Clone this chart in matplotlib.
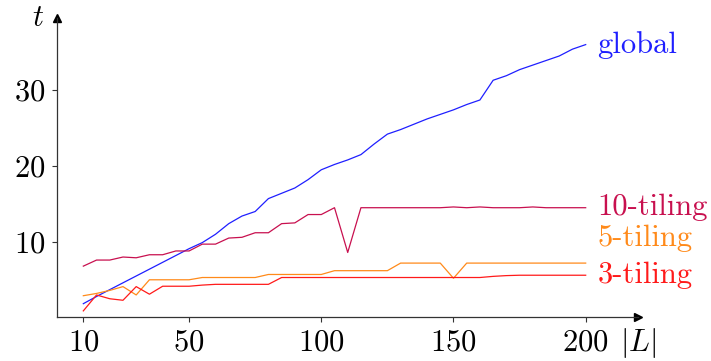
import matplotlib
matplotlib.use("Agg")
import matplotlib.pyplot as plt

matplotlib.rcParams['font.family'] = 'cmr10'
matplotlib.rcParams['mathtext.fontset'] = 'cm'
matplotlib.rcParams['axes.formatter.use_mathtext'] = True

L = list(range(10, 201, 5))

t_global = [1.85, 2.8, 3.7, 4.6, 5.5, 6.4, 7.3, 8.2, 9.1, 9.9, 11.0, 12.4, 13.4, 14.0,
            15.7, 16.4, 17.1, 18.2, 19.5, 20.2, 20.8, 21.5, 22.9, 24.2, 24.8, 25.5,
            26.2, 26.8, 27.4, 28.1, 28.7, 31.3, 31.9, 32.7, 33.3, 33.9, 34.5, 35.4, 36.0]
t_10 = [6.8, 7.6, 7.6, 8.0, 7.9, 8.3, 8.3, 8.8, 8.8, 9.7, 9.7, 10.5, 10.6, 11.2,
        11.2, 12.4, 12.5, 13.6, 13.6, 14.5, 8.6, 14.5, 14.5, 14.5, 14.5, 14.5,
        14.5, 14.5, 14.6, 14.5, 14.6, 14.5, 14.5, 14.5, 14.6, 14.5, 14.5, 14.5, 14.5]
t_5 = [2.9, 3.2, 3.6, 4.1, 3.0, 5.0, 5.0, 5.0, 5.0, 5.3, 5.3, 5.3, 5.3, 5.3,
       5.7, 5.7, 5.7, 5.7, 5.7, 6.2, 6.2, 6.2, 6.2, 6.2, 7.2, 7.2, 7.2, 7.2,
       5.2, 7.2, 7.2, 7.2, 7.2, 7.2, 7.2, 7.2, 7.2, 7.2, 7.2]
t_3 = [0.9, 3.0, 2.5, 2.3, 4.1, 3.1, 4.15, 4.15, 4.15, 4.3, 4.4, 4.4, 4.4, 4.4,
       4.4, 5.3, 5.3, 5.3, 5.3, 5.3, 5.3, 5.3, 5.3, 5.3, 5.3, 5.3, 5.3, 5.3,
       5.3, 5.3, 5.3, 5.45, 5.55, 5.6, 5.6, 5.6, 5.6, 5.6, 5.6]

series = [
    ('global', t_global, '#1f1fff', 36.0),
    ('10-tiling', t_10, '#c8104f', 14.5),
    ('5-tiling', t_5, '#ff8a1a', 10.5),
    ('3-tiling', t_3, '#ff1a1a', 5.6),
]

fig = plt.figure(figsize=(7.11, 3.61), dpi=100)
ax = fig.add_axes([0.080, 0.122, 0.817, 0.828])

for name, vals, col, ylab in series:
    ax.plot(L, vals, color=col, lw=0.9)
    ax.annotate(name, xy=(L[-1], ylab), xytext=(8.6, 0), textcoords='offset points',
                ha='left', va='center', color=col, fontsize=22, annotation_clip=False)

ax.set_xlim(0, 219.7)
ax.set_ylim(0.1, 39.5)
ax.set_xticks([10, 50, 100, 150, 200])
ax.set_yticks([10, 20, 30])
ax.tick_params(labelsize=22, length=3.6, width=0.8, color='#333333', pad=5)

for s in ['top', 'right']:
    ax.spines[s].set_visible(False)
for s in ['left', 'bottom']:
    ax.spines[s].set_color('#333333')
    ax.spines[s].set_linewidth(0.9)

ax.plot(1, 0, '>', color='black', ms=6, transform=ax.transAxes, clip_on=False)
ax.plot(0, 1, '^', color='black', ms=6, transform=ax.transAxes, clip_on=False)

ax.text(-0.022, 1.0, '$t$', transform=ax.transAxes, fontsize=22, ha='right', va='center')
ax.text(1.0, -0.087, '$|L|$', transform=ax.transAxes, fontsize=22, ha='center', va='center')

fig.savefig('out.png', dpi=100)
